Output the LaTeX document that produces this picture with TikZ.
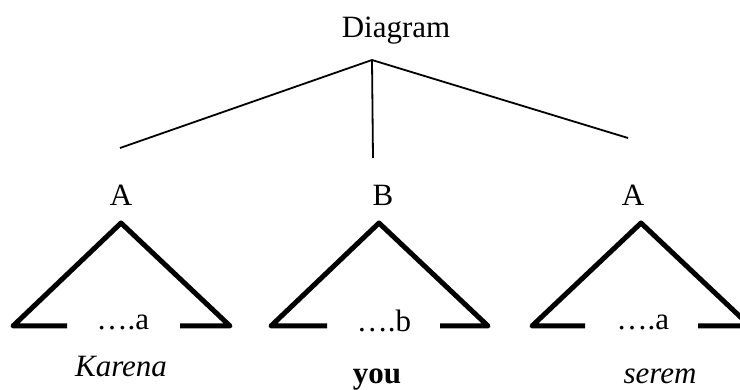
\documentclass[tikz,border=0pt]{standalone}
\usepackage{fontspec}
\setmainfont{Liberation Serif}
\begin{document}
\begin{tikzpicture}[x=1pt,y=-1pt,
  lbl/.style={inner sep=0pt,anchor=base,font=\fontsize{31}{36}\selectfont},
  thin/.style={line width=1.8pt},
  tri/.style={line width=5pt,line join=round,line cap=butt}]
\useasboundingbox (0,0) rectangle (740,390);
\clip (0,0) rectangle (740,390);
% root
\node[lbl] (root) at (396,38) {Diagram};
\coordinate (top) at (372,60);
\coordinate (e1) at (120,148);
\coordinate (e2) at (373,158);
\coordinate (e3) at (628,138);
\draw[thin] (top) -- (e1);
\draw[thin] (top) -- (e2);
\draw[thin] (top) -- (e3);
% labels
\node[lbl] (A1) at (121,206) {A};
\node[lbl] (B) at (383,206) {B};
\node[lbl] (A2) at (633,206) {A};
% triangle 1
\coordinate (t1) at (121,223);
\coordinate (l1) at (13,326);
\coordinate (r1) at (230,326);
\coordinate (la1) at (67,326);
\coordinate (ra1) at (180,326);
\draw[tri] (la1) -- (l1) -- (t1) -- (r1) -- (ra1);
\node[lbl] (d1) at (123,330) {….a};
\node[lbl,font=\fontsize{31}{36}\selectfont\itshape] (w1) at (121,377) {Karena};
% triangle 2
\coordinate (t2) at (379,223);
\coordinate (l2) at (271,326);
\coordinate (r2) at (488,326);
\coordinate (la2) at (327,326);
\coordinate (ra2) at (440,326);
\draw[tri] (la2) -- (l2) -- (t2) -- (r2) -- (ra2);
\node[lbl] (d2) at (384,332) {….b};
\node[lbl,font=\fontsize{31}{36}\selectfont\bfseries] (w2) at (377,384) {you};
% triangle 3
\coordinate (t3) at (641,223);
\coordinate (l3) at (532,326);
\coordinate (r3) at (750,326);
\coordinate (la3) at (585,326);
\coordinate (ra3) at (698,326);
\draw[tri] (la3) -- (l3) -- (t3) -- (r3) -- (ra3);
\node[lbl] (d3) at (643,330) {….a};
\node[lbl,font=\fontsize{31}{36}\selectfont\itshape] (w3) at (660,384) {serem};
\end{tikzpicture}
\end{document}
